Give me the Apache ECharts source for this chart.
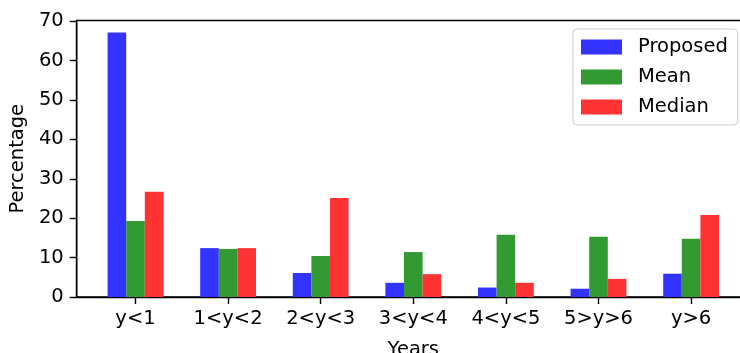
<!DOCTYPE html>
<html>
<head>
<meta charset="utf-8">
<script src="https://cdn.jsdelivr.net/npm/echarts@6/dist/echarts.min.js"></script>
<style>
  html, body { margin: 0; padding: 0; background: #fff; }
  #chart { width: 740px; height: 353px; }
</style>
</head>
<body>
<div id="chart"></div>
<script>
// Share of cases per year band, for three estimators
const categories = ['y<1', '1<y<2', '2<y<3', '3<y<4', '4<y<5', '5>y>6', 'y>6'];
const proposed = [67.1, 12.4, 6.1, 3.6, 2.4, 2.1, 5.9];
const mean     = [19.3, 12.2, 10.4, 11.4, 15.8, 15.3, 14.8];
const median   = [26.7, 12.4, 25.1, 5.8, 3.6, 4.6, 20.8];
const yTicks = [0, 10, 20, 30, 40, 50, 60, 70];

const FONT = 'DejaVu Sans';
const FS = 19.5;

// Category index i sits at x = i on a numeric axis so the plot frame can
// extend past the outer bars the way a padded data range does.
const xIdx = categories.map((_, i) => i);
const pairs = arr => arr.map((v, i) => [i, v]);

const chart = echarts.init(document.getElementById('chart'), null, { renderer: 'canvas' });

const barBase = {
  type: 'bar',
  barWidth: 18.6,
  barGap: '0%',
  animation: false,
  emphasis: { disabled: true }
};

chart.setOption({
  animation: false,
  textStyle: { fontFamily: FONT },
  grid: {
    left: 76.7,
    top: 20.5,
    width: 673.2,
    height: 276.5,
    outerBoundsMode: 'none',
    containLabel: false,
    show: true,
    borderColor: '#000',
    borderWidth: 1.4,
    backgroundColor: 'transparent'
  },
  legend: {
    orient: 'vertical',
    left: 573,
    top: 29,
    padding: [8, 10, 8, 8],
    itemWidth: 41,
    itemHeight: 15,
    itemGap: 10,
    backgroundColor: '#fff',
    borderColor: '#cccccc',
    borderWidth: 1,
    borderRadius: 4,
    icon: 'rect',
    textStyle: { fontFamily: FONT, fontSize: FS, color: '#000', padding: [0, 0, 0, 11] },
    data: ['Proposed', 'Mean', 'Median']
  },
  xAxis: {
    type: 'value',
    min: -0.635,
    max: 6.635,
    name: 'Years',
    nameLocation: 'middle',
    nameGap: 43,
    nameTextStyle: { fontFamily: FONT, fontSize: FS, color: '#000' },
    splitLine: { show: false },
    axisLine: { show: true, onZero: false, lineStyle: { color: '#000', width: 1.4 } },
    axisTick: { show: true, length: 7, customValues: xIdx, lineStyle: { color: '#000', width: 1.4 } },
    axisLabel: {
      customValues: xIdx,
      formatter: v => categories[Math.round(v)] || '',
      fontFamily: FONT, fontSize: FS, color: '#000', margin: 12
    }
  },
  yAxis: {
    type: 'value',
    min: 0,
    max: 70.15,
    name: 'Percentage',
    nameLocation: 'middle',
    nameGap: 48,
    nameRotate: 90,
    nameTextStyle: { fontFamily: FONT, fontSize: FS, color: '#000' },
    splitLine: { show: false },
    axisLine: { show: true, onZero: false, lineStyle: { color: '#000', width: 1.4 } },
    axisTick: { show: true, length: 7, customValues: yTicks, lineStyle: { color: '#000', width: 1.4 } },
    axisLabel: {
      customValues: yTicks,
      fontFamily: FONT, fontSize: FS, color: '#000', margin: 13
    }
  },
  series: [
    Object.assign({}, barBase, { name: 'Proposed', data: pairs(proposed), itemStyle: { color: 'rgb(51,51,255)' } }),
    Object.assign({}, barBase, { name: 'Mean',     data: pairs(mean),     itemStyle: { color: 'rgb(51,153,51)' } }),
    Object.assign({}, barBase, { name: 'Median',   data: pairs(median),   itemStyle: { color: 'rgb(255,51,51)' } })
  ]
});
</script>
</body>
</html>
